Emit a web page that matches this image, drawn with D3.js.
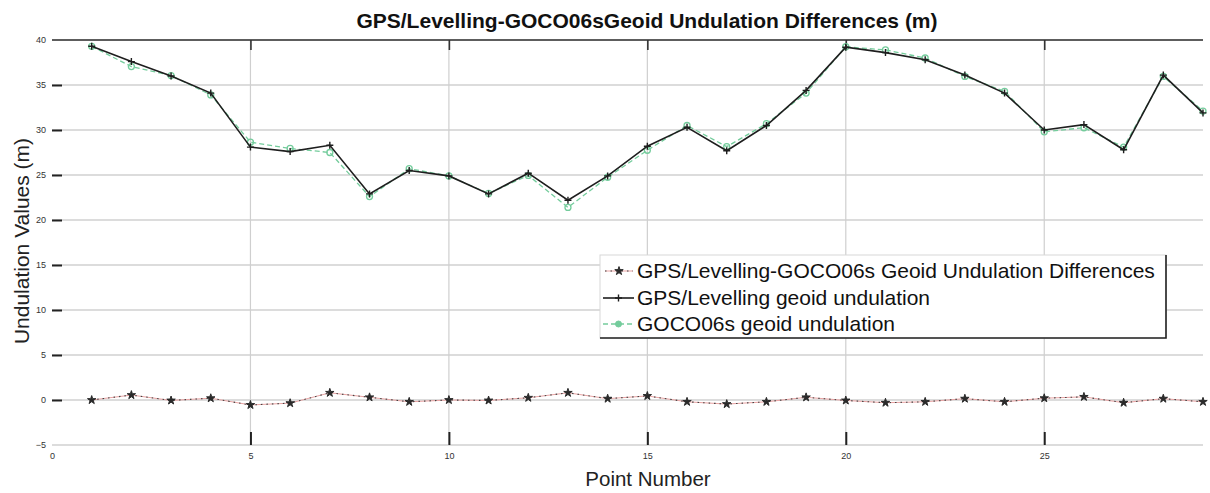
<!DOCTYPE html>
<html>
<head>
<meta charset="utf-8">
<script src="https://cdn.jsdelivr.net/npm/d3@7"></script>
<style>
  html, body { margin: 0; padding: 0; background: #fff; }
  svg { display: block; font-family: "Liberation Sans", Arial, sans-serif; }
</style>
</head>
<body>
<svg id="chart" width="1210" height="493"></svg>
<script>
// Point numbers along the traverse
const points = d3.range(1, 30);

// GPS/Levelling geoid undulation (m)
const gpsLevelling = [39.3, 37.6, 36.0, 34.1, 28.1, 27.6, 28.3, 22.9, 25.5, 24.9,
                      22.9, 25.2, 22.2, 24.9, 28.2, 30.3, 27.7, 30.5, 34.4, 39.2,
                      38.6, 37.8, 36.1, 34.1, 30.0, 30.6, 27.8, 36.1, 31.9];

// GOCO06s model geoid undulation (m)
const goco06s = [39.3, 37.05, 36.05, 33.9, 28.65, 27.95, 27.5, 22.6, 25.7, 24.9,
                 22.95, 24.95, 21.4, 24.75, 27.75, 30.5, 28.15, 30.7, 34.1, 39.25,
                 38.9, 38.0, 35.95, 34.3, 29.8, 30.25, 28.1, 35.95, 32.1];

// GPS/Levelling minus GOCO06s (m)
const differences = [0.0, 0.55, -0.05, 0.2, -0.55, -0.35, 0.8, 0.3, -0.2, 0.0,
                     -0.05, 0.25, 0.8, 0.15, 0.45, -0.2, -0.45, -0.2, 0.3, -0.05,
                     -0.3, -0.2, 0.15, -0.2, 0.2, 0.35, -0.3, 0.15, -0.2];

const xTicks = [0, 5, 10, 15, 20, 25];
const yTicks = [-5, 0, 5, 10, 15, 20, 25, 30, 35, 40];

const titleText = "GPS/Levelling-GOCO06sGeoid Undulation Differences (m)";
const xLabel = "Point Number";
const yLabel = "Undulation Values (m)";
const legendLabels = [
  "GPS/Levelling-GOCO06s Geoid Undulation Differences",
  "GPS/Levelling geoid undulation",
  "GOCO06s geoid undulation"
];

const svg = d3.select("#chart");
const x = d3.scaleLinear().domain([0, 29]).range([52, 1203]);
const y = d3.scaleLinear().domain([-5, 40]).range([445, 40]);

const colDiffLine = "#e9a3a3";
const colDark = "#1e1e1e";
const colGreen = "#74cc9c";

// Grid
const grid = svg.append("g");
grid.selectAll(".hg").data(yTicks).join("line")
  .attr("x1", x(0)).attr("x2", x(29))
  .attr("y1", d => y(d)).attr("y2", d => y(d))
  .attr("stroke", "#dcdcdc").attr("stroke-width", 2);
grid.selectAll(".vg").data(xTicks.filter(d => d > 0)).join("line")
  .attr("x1", d => x(d)).attr("x2", d => x(d))
  .attr("y1", y(40)).attr("y2", y(-5))
  .attr("stroke", "#cfcfcf").attr("stroke-width", 1.2);

// Top border
svg.append("line")
  .attr("x1", x(0)).attr("x2", x(29)).attr("y1", y(40)).attr("y2", y(40))
  .attr("stroke", "#333").attr("stroke-width", 1.5);

// Y axis: inward tick dashes and labels
const yAxis = d3.axisLeft(y).tickValues(yTicks).tickSize(-10).tickPadding(6);
const gy = svg.append("g").attr("transform", `translate(${x(0)},0)`).call(yAxis);
gy.select(".domain").remove();
gy.selectAll(".tick line").attr("stroke", "#222").attr("stroke-width", 2);
gy.selectAll(".tick line").filter(d => d === 40 || d === -5).remove();
gy.selectAll(".tick text").attr("font-size", 9).attr("fill", "#333")
  .attr("font-family", "Liberation Sans, Arial, sans-serif");

// X axis: inward ticks at bottom and top
const xAxis = d3.axisBottom(x).tickValues(xTicks).tickSize(-13).tickPadding(8);
const gx = svg.append("g").attr("transform", `translate(0,${y(-5)})`).call(xAxis);
gx.select(".domain").remove();
gx.selectAll(".tick line").attr("stroke", "#222").attr("stroke-width", 2);
gx.selectAll(".tick line").filter(d => d === 0).remove();
gx.selectAll(".tick text").attr("font-size", 9).attr("fill", "#333")
  .attr("font-family", "Liberation Sans, Arial, sans-serif");

const xTop = d3.axisTop(x).tickValues(xTicks.filter(d => d > 0)).tickSize(-10).tickFormat("");
const gxt = svg.append("g").attr("transform", `translate(0,${y(40)})`).call(xTop);
gxt.select(".domain").remove();
gxt.selectAll(".tick line").attr("stroke", "#333").attr("stroke-width", 1.6);

// Series lines
const lineOf = arr => d3.line().x((d, i) => x(points[i])).y(d => y(d))(arr);

// Differences: faint red line with dark dotted overlay
svg.append("path").attr("d", lineOf(differences))
  .attr("fill", "none").attr("stroke", colDiffLine).attr("stroke-width", 1);
svg.append("path").attr("d", lineOf(differences))
  .attr("fill", "none").attr("stroke", "#444").attr("stroke-width", 1.1)
  .attr("stroke-dasharray", "1.5,4");
const star = d3.symbol().type(d3.symbolStar).size(22);
svg.selectAll(".dm").data(differences).join("path")
  .attr("d", star)
  .attr("transform", (d, i) => `translate(${x(points[i])},${y(d)})`)
  .attr("fill", "#2a2a2a").attr("stroke", "#2a2a2a").attr("stroke-width", 1);

// GOCO06s: green dashed
svg.append("path").attr("d", lineOf(goco06s))
  .attr("fill", "none").attr("stroke", colGreen).attr("stroke-width", 1.3)
  .attr("stroke-dasharray", "5,3");
svg.selectAll(".gm").data(goco06s).join("circle")
  .attr("cx", (d, i) => x(points[i])).attr("cy", d => y(d)).attr("r", 3)
  .attr("fill", "none").attr("stroke", colGreen).attr("stroke-width", 1.3);

// GPS/Levelling: black solid with plus markers
svg.append("path").attr("d", lineOf(gpsLevelling))
  .attr("fill", "none").attr("stroke", colDark).attr("stroke-width", 1.6);
svg.selectAll(".pm").data(gpsLevelling).join("path")
  .attr("d", (d, i) => {
    const cx = x(points[i]), cy = y(d), s = 3.5;
    return `M${cx - s},${cy}H${cx + s}M${cx},${cy - s}V${cy + s}`;
  })
  .attr("stroke", colDark).attr("stroke-width", 1.4).attr("fill", "none");

// Legend
const lg = svg.append("g");
const lx0 = 600, lx1 = 1166, ly0 = 255, ly1 = 338;
lg.append("rect").attr("x", lx0).attr("y", ly0).attr("width", lx1 - lx0).attr("height", ly1 - ly0)
  .attr("fill", "#fff").attr("stroke", "#d8d8d8").attr("stroke-width", 1);
lg.append("path").attr("d", `M${lx0},${ly1}H${lx1}V${ly0}`)
  .attr("fill", "none").attr("stroke", "#222").attr("stroke-width", 1.6);
const rows = [271, 298, 324];
// row 1: differences sample
lg.append("line").attr("x1", 605).attr("x2", 633).attr("y1", rows[0]).attr("y2", rows[0])
  .attr("stroke", colDiffLine).attr("stroke-width", 1);
lg.append("line").attr("x1", 605).attr("x2", 633).attr("y1", rows[0]).attr("y2", rows[0])
  .attr("stroke", "#444").attr("stroke-width", 1.1).attr("stroke-dasharray", "1.5,4");
lg.append("path").attr("d", star).attr("transform", `translate(619,${rows[0]})`)
  .attr("fill", "#2a2a2a").attr("stroke", "#2a2a2a").attr("stroke-width", 1);
// row 2: GPS/Levelling sample
lg.append("line").attr("x1", 603).attr("x2", 634).attr("y1", rows[1]).attr("y2", rows[1])
  .attr("stroke", colDark).attr("stroke-width", 1.6);
lg.append("path").attr("d", `M615,${rows[1]}H622M618.5,${rows[1] - 3.5}V${rows[1] + 3.5}`)
  .attr("stroke", colDark).attr("stroke-width", 1.4);
// row 3: GOCO06s sample
lg.append("line").attr("x1", 603).attr("x2", 634).attr("y1", rows[2]).attr("y2", rows[2])
  .attr("stroke", colGreen).attr("stroke-width", 1.3).attr("stroke-dasharray", "5,3");
lg.append("circle").attr("cx", 618.5).attr("cy", rows[2]).attr("r", 3)
  .attr("fill", colGreen).attr("stroke", colGreen);
lg.selectAll(".lt").data(legendLabels).join("text")
  .attr("x", 637).attr("y", (d, i) => rows[i]).attr("dy", "0.35em")
  .attr("font-size", 21).attr("fill", "#111").text(d => d);

// Titles
svg.append("text").attr("x", 647).attr("y", 28).attr("text-anchor", "middle")
  .attr("font-size", 21).attr("font-weight", "bold").attr("fill", "#111").text(titleText);
svg.append("text").attr("x", 648).attr("y", 486).attr("text-anchor", "middle")
  .attr("font-size", 20.5).attr("fill", "#222").text(xLabel);
svg.append("text").attr("transform", "translate(29,241) rotate(-90)").attr("text-anchor", "middle")
  .attr("font-size", 21).attr("fill", "#222").text(yLabel);
</script>
</body>
</html>
